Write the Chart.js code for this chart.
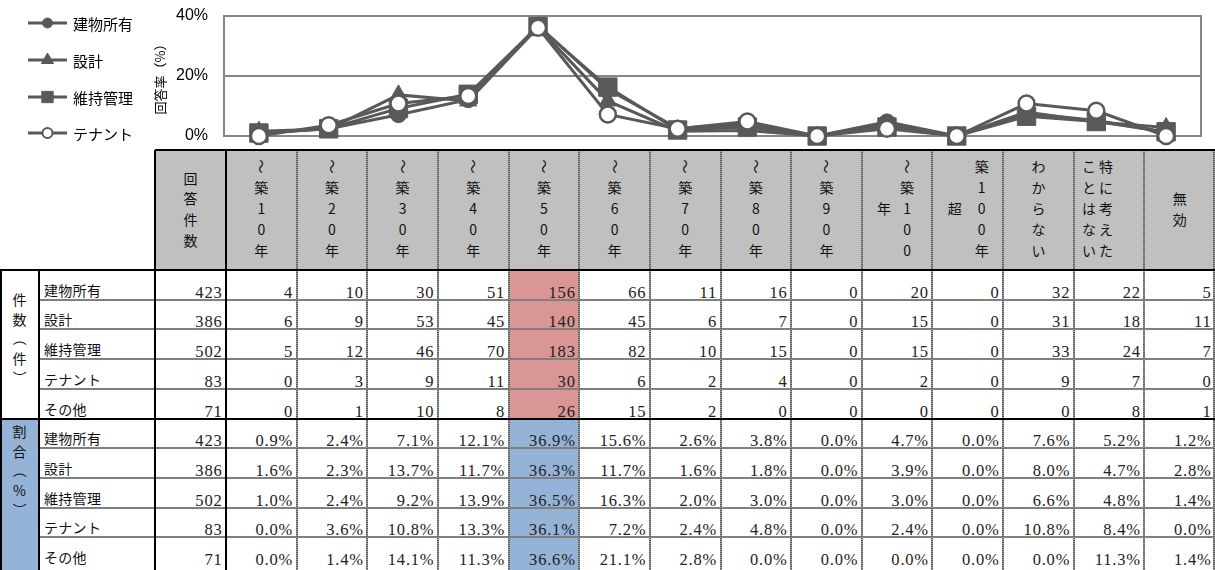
<!DOCTYPE html>
<html lang="ja">
<head>
<meta charset="utf-8">
<script src="https://cdn.jsdelivr.net/npm/chart.js@4/dist/chart.umd.min.js"></script>
<style>
  html, body { margin: 0; padding: 0; background: #fff; }
  body { width: 1215px; height: 570px; position: relative; overflow: hidden;
         font-family: "Noto Sans CJK JP", "Noto Sans", sans-serif; color: #111; }
  #chart { position: absolute; left: 0; top: 0; z-index: 3; }
  #table { position: absolute; left: 0; top: 0; width: 1215px; height: 570px; z-index: 1; }
  #table div { position: absolute; box-sizing: border-box; white-space: nowrap; }
  .num { font-family: "Liberation Serif", "DejaVu Serif", serif; font-size: 16.5px; line-height: 18px;
         letter-spacing: 0.8px; text-align: right; color: #222; }
  .lab { font-size: 14px; line-height: 18px; letter-spacing: 0.3px; color: #111; }
  .stk { font-size: 14px; text-align: center; color: #111; }
  .rot { display: inline-block; transform: rotate(90deg); }
</style>
</head>
<body>
<div id="table"></div>
<canvas id="chart" width="1215" height="150"></canvas>
<script>
// ---- data ----
const categories = ['〜築10年', '〜築20年', '〜築30年', '〜築40年', '〜築50年', '〜築60年', '〜築70年',
                    '〜築80年', '〜築90年', '〜築100年', '築100年超', 'わからない', '特に考えたことはない', '無効'];
const seriesNames = ['建物所有', '設計', '維持管理', 'テナント', 'その他'];
const totals = [423, 386, 502, 83, 71];

const countOwner  = [4, 10, 30, 51, 156, 66, 11, 16, 0, 20, 0, 32, 22, 5];
const countDesign = [6, 9, 53, 45, 140, 45, 6, 7, 0, 15, 0, 31, 18, 11];
const countMaint  = [5, 12, 46, 70, 183, 82, 10, 15, 0, 15, 0, 33, 24, 7];
const countTenant = [0, 3, 9, 11, 30, 6, 2, 4, 0, 2, 0, 9, 7, 0];
const countOther  = [0, 1, 10, 8, 26, 15, 2, 0, 0, 0, 0, 0, 8, 1];

const shareOwner  = [0.9, 2.4, 7.1, 12.1, 36.9, 15.6, 2.6, 3.8, 0.0, 4.7, 0.0, 7.6, 5.2, 1.2];
const shareDesign = [1.6, 2.3, 13.7, 11.7, 36.3, 11.7, 1.6, 1.8, 0.0, 3.9, 0.0, 8.0, 4.7, 2.8];
const shareMaint  = [1.0, 2.4, 9.2, 13.9, 36.5, 16.3, 2.0, 3.0, 0.0, 3.0, 0.0, 6.6, 4.8, 1.4];
const shareTenant = [0.0, 3.6, 10.8, 13.3, 36.1, 7.2, 2.4, 4.8, 0.0, 2.4, 0.0, 10.8, 8.4, 0.0];
const shareOther  = [0.0, 1.4, 14.1, 11.3, 36.6, 21.1, 2.8, 0.0, 0.0, 0.0, 0.0, 0.0, 11.3, 1.4];

const yTicks = [0, 20, 40];
const yTitle = '回答率（%）';

// header text, one string per vertical column of characters
const headerColumns = [
  ['〜築10年'], ['〜築20年'], ['〜築30年'], ['〜築40年'], ['〜築50年'], ['〜築60年'], ['〜築70年'],
  ['〜築80年'], ['〜築90年'], ['〜築100', '年'], ['築100年', '超'], ['わからない'],
  ['特に考えた', 'ことはない'], ['無効']
];
const countHeader = '回答件数';
const groupLabels = [['件', '数', '（', '件', '）'], ['割', '合', '（', '%', '）']];
const highlightIndex = 4;

const counts = [countOwner, countDesign, countMaint, countTenant, countOther];
const shares = [shareOwner, shareDesign, shareMaint, shareTenant, shareOther];

// ---- table ----
const T = document.getElementById('table');
function box(l, t, w, h, css, html) {
  const d = document.createElement('div');
  d.style.cssText = `left:${l}px;top:${t}px;width:${w}px;height:${h}px;${css || ''}`;
  if (html !== undefined) d.innerHTML = html;
  T.appendChild(d);
  return d;
}
const W = 1215;
const dataLeft = 226;
const colW = (W - dataLeft) / categories.length;
const colL = i => dataLeft + i * colW;
const headTop = 150, headBot = 270;
const rowH = 29.7;
const rowTop = k => headBot + k * rowH;

const PINK = '#d99694', BLUE = '#95b3d7', HEAD = '#c0c0c0';

// fills
box(155, headTop, W - 155, headBot - headTop, `background:${HEAD}`);
box(colL(highlightIndex), headBot, colW, rowTop(5) - headBot, `background:${PINK}`);
box(colL(highlightIndex), rowTop(5), colW, 570 - rowTop(5), `background:${BLUE}`);
box(0, rowTop(5), 39, 570 - rowTop(5), `background:${BLUE}`);

// stacked (vertical) characters; wave dash and brackets are turned sideways
function charHtml(c) { return '〜（）'.includes(c) ? `<span class="rot">${c}</span>` : c; }
function stack(cx, cy, chars, startLine, total, lh) {
  const n = total || chars.length;
  const top0 = cy - n * lh / 2;
  chars.forEach((c, j) => {
    box(cx - 12, top0 + (j + (startLine || 0)) * lh, 24, lh,
        `line-height:${lh}px`, charHtml(c)).className = 'stk';
  });
}
const subLayout = { 9: [10, -13, 2], 10: [14, -13, 2], 12: [-3, -20, 0] };
headerColumns.forEach((cols, i) => {
  const cx = colL(i) + colW / 2;
  const main = Array.from(cols[0]);
  if (cols.length === 1) {
    stack(cx, 208.5, main, 0, main.length, 21);
  } else {
    const [dm, ds, st] = subLayout[i];
    stack(cx + dm, 208.5, main, 0, main.length, 21);
    stack(cx + ds, 208.5, Array.from(cols[1]), st, main.length, 21);
  }
});
stack(190.5, 209, Array.from(countHeader), 0, 4, 20.7);

// group labels
stack(19.5, 339, groupLabels[0], 0, 5, 19.5);
stack(19.5, 471, groupLabels[1], 0, 5, 19.5);

// body rows
function rowCells(k, name, total, vals, fmt) {
  const bottom = rowTop(k + 1);
  box(44, bottom - 19, 110, 18, '', name).className = 'lab';
  box(155, bottom - 16, 226 - 155 - 3.5, 18, '', String(total)).className = 'num';
  vals.forEach((v, i) => {
    box(colL(i), bottom - 16, colW - 3.5, 18, '', fmt(v)).className = 'num';
  });
}
seriesNames.forEach((n, s) => rowCells(s, n, totals[s], counts[s], v => String(v)));
seriesNames.forEach((n, s) => rowCells(s + 5, n, totals[s], shares[s], v => v.toFixed(1) + '%'));

// grid lines
function hline(x1, x2, y, css) { box(x1, y - 1, x2 - x1, 2, css); }
function vline(x, y1, y2, css) { box(x - 1, y1, 2, y2 - y1, css); }
const GL = 'background:#7f7f7f';
const DL = 'background:repeating-linear-gradient(to bottom,#5e5e5e 0 1px,#9a9a9a 1px 2px)';
const BL = 'background:#000';
for (let k = 1; k < 10; k++) if (k !== 5) hline(39, W, rowTop(k), GL);
for (let i = 1; i < categories.length; i++) vline(colL(i), headTop, 570, DL);
vline(W - 1, headTop, 570, DL);
hline(155, W, headTop, BL);
hline(0, W, headBot, BL);
hline(0, W, rowTop(5), BL);
vline(1, headBot, 570, BL);
vline(39, headBot, 570, BL);
vline(155, headTop, 570, BL);
vline(226, headTop, 570, BL);

// ---- chart ----
const LINE = '#595959';
const GRID = '#868686';
const seriesStyle = [
  { style: 'circle',   r: 8,  fill: LINE,   legendR: 5 },
  { style: 'triangle', r: 10, fill: LINE,   legendR: 7 },
  { style: 'rect',     r: 13, fill: LINE,   legendR: 8 },
  { style: 'circle',   r: 8,  fill: '#fff', legendR: 5 }
];
const chartData = [shareOwner, shareDesign, shareMaint, shareTenant];

const datasets = chartData.map((d, i) => ({
  label: seriesNames[i],
  data: d,
  borderColor: LINE,
  borderWidth: 3,
  tension: 0,
  pointStyle: seriesStyle[i].style,
  pointRadius: seriesStyle[i].r,
  pointHoverRadius: seriesStyle[i].r,
  pointBackgroundColor: seriesStyle[i].fill,
  pointBorderColor: LINE,
  pointBorderWidth: seriesStyle[i].fill === '#fff' ? 2.5 : 1,
  order: chartData.length - 1 - i,
  clip: false
}));

function markerPath(ctx, style, x, y, r) {
  ctx.beginPath();
  if (style === 'circle') {
    ctx.arc(x, y, r, 0, Math.PI * 2);
  } else if (style === 'triangle') {
    ctx.moveTo(x, y - r);
    ctx.lineTo(x + r * Math.sin(2 * Math.PI / 3), y - r * Math.cos(2 * Math.PI / 3));
    ctx.lineTo(x + r * Math.sin(4 * Math.PI / 3), y - r * Math.cos(4 * Math.PI / 3));
    ctx.closePath();
  } else {
    const s = r * Math.SQRT1_2;
    ctx.rect(x - s, y - s, 2 * s, 2 * s);
  }
}

const sideLegend = {
  id: 'sideLegend',
  afterDraw(chart) {
    const ctx = chart.ctx;
    const ys = [23, 60, 97, 133];
    ctx.save();
    chart.data.datasets.forEach((ds, i) => {
      const y = ys[i];
      ctx.strokeStyle = LINE;
      ctx.lineWidth = 3;
      ctx.beginPath();
      ctx.moveTo(28, y);
      ctx.lineTo(67, y);
      ctx.stroke();
      markerPath(ctx, seriesStyle[i].style, 47.5, y, seriesStyle[i].legendR);
      ctx.fillStyle = seriesStyle[i].fill;
      ctx.fill();
      ctx.lineWidth = seriesStyle[i].fill === '#fff' ? 2 : 1;
      ctx.stroke();
      ctx.fillStyle = '#000';
      ctx.font = '15px "Noto Sans CJK JP", sans-serif';
      ctx.textBaseline = 'middle';
      ctx.textAlign = 'left';
      ctx.fillText(ds.label, 73, y + 1);
    });
    ctx.restore();
  }
};

// keep the plot box at fixed pixel bounds regardless of tick label overhang
function fixedAxis(width) {
  return s => { s.width = width; s.paddingTop = 0; s.paddingBottom = 0; };
}

new Chart(document.getElementById('chart'), {
  type: 'line',
  data: { labels: categories, datasets },
  options: {
    responsive: false,
    animation: false,
    devicePixelRatio: 1,
    layout: { padding: { left: 148, right: 1, top: 16, bottom: 13 } },
    plugins: { legend: { display: false }, tooltip: { enabled: false } },
    scales: {
      x: { display: false, offset: true },
      y: {
        position: 'left',
        min: 0, max: 40,
        afterBuildTicks: s => { s.ticks = yTicks.map(v => ({ value: v })); },
        afterFit: fixedAxis(76),
        ticks: {
          padding: 16,
          color: '#000',
          font: { family: '"Liberation Sans", Arial, sans-serif', size: 16 },
          callback: v => v + '%'
        },
        grid: { color: GRID, lineWidth: 2, drawTicks: false },
        border: { display: true, color: GRID, width: 2 },
        title: {
          display: true, text: yTitle, color: '#000',
          font: { family: '"Noto Sans CJK JP", sans-serif', size: 13 },
          padding: { top: 4, bottom: 4 }
        }
      },
      y2: {
        position: 'right',
        min: 0, max: 40,
        afterFit: fixedAxis(1),
        ticks: { display: false },
        grid: { display: false, drawTicks: false },
        border: { display: true, color: GRID, width: 2 }
      }
    }
  },
  plugins: [sideLegend]
});
</script>
</body>
</html>
